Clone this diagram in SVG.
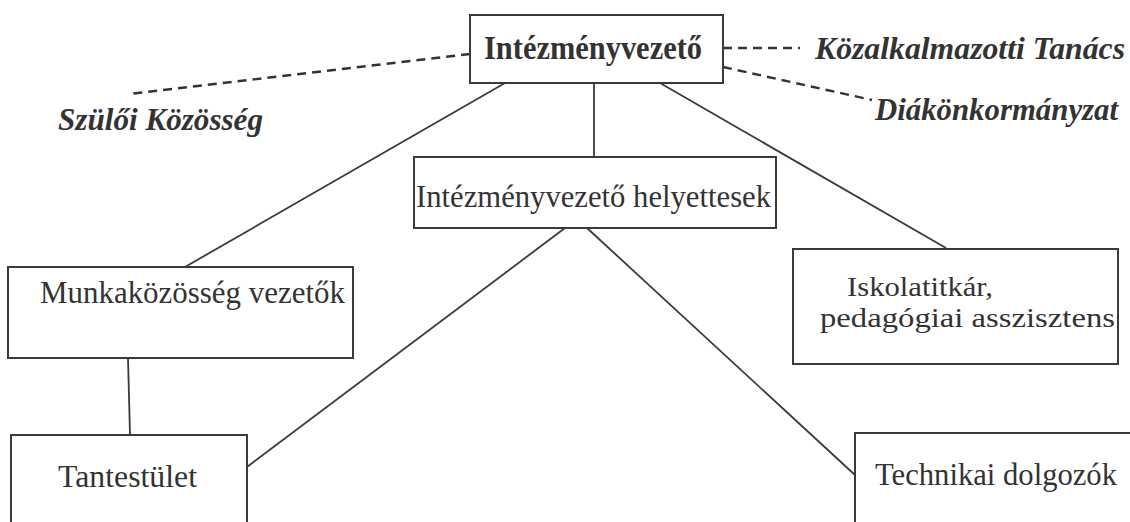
<svg xmlns="http://www.w3.org/2000/svg" width="1130" height="522" viewBox="0 0 1130 522">
<style>
.box{fill:#fff;stroke:#3a3a3a;stroke-width:2}
.ln{stroke:#3a3a3a;stroke-width:1.8;fill:none}
.dash{stroke:#333;stroke-width:2.4;fill:none;stroke-dasharray:9 6}
.t{font-family:'Liberation Serif','Times New Roman',serif;font-size:32px;fill:#333}
.b{font-weight:bold;font-size:33px}
.bi{font-weight:bold;font-style:italic;font-size:31px}
.s{font-size:28px}
</style>
<rect width="1130" height="522" fill="#fff"/>
<g id="connectors">
<line class="ln" x1="505" y1="83" x2="185" y2="267"/>
<line class="ln" x1="594" y1="83" x2="594" y2="157"/>
<line class="ln" x1="660" y1="83" x2="946" y2="248"/>
<line class="ln" x1="565" y1="228" x2="247" y2="467"/>
<line class="ln" x1="587" y1="228" x2="855" y2="475"/>
<line class="ln" x1="128" y1="358" x2="130" y2="435"/>
<line class="dash" x1="470" y1="54" x2="129" y2="94"/>
<line class="dash" x1="723" y1="48" x2="800" y2="48"/>
<line class="dash" x1="723" y1="67" x2="872" y2="100"/>
</g>
<g id="intezmenyvezeto">
<rect class="box" x="470" y="15" width="253" height="68"/>
<text class="t b" x="484" y="59" textLength="218" lengthAdjust="spacingAndGlyphs">Intézményvezető</text>
</g>
<g id="kozalkalmazotti">
<text class="t bi" x="815" y="59" textLength="310" lengthAdjust="spacingAndGlyphs">Közalkalmazotti Tanács</text>
</g>
<g id="diakonkormanyzat">
<text class="t bi" x="875" y="120" textLength="243" lengthAdjust="spacingAndGlyphs">Diákönkormányzat</text>
</g>
<g id="szuloi">
<text class="t bi" x="58" y="130" textLength="205" lengthAdjust="spacingAndGlyphs">Szülői Közösség</text>
</g>
<g id="helyettesek">
<rect class="box" x="414" y="157" width="362" height="71"/>
<text class="t" x="416" y="207" textLength="355" lengthAdjust="spacingAndGlyphs">Intézményvezető helyettesek</text>
</g>
<g id="munkakozosseg">
<rect class="box" x="8" y="267" width="345" height="91"/>
<text class="t" x="40" y="303" textLength="305" lengthAdjust="spacingAndGlyphs">Munkaközösség vezetők</text>
</g>
<g id="iskolatitkar">
<rect class="box" x="793" y="249" width="325" height="115"/>
<text class="t s" x="847" y="296" textLength="146" lengthAdjust="spacingAndGlyphs">Iskolatitkár,</text>
<text class="t s" x="820" y="327" textLength="295" lengthAdjust="spacingAndGlyphs">pedagógiai asszisztens</text>
</g>
<g id="tantestulet">
<rect class="box" x="11" y="435" width="236" height="100"/>
<text class="t" x="58" y="487" textLength="139" lengthAdjust="spacingAndGlyphs">Tantestület</text>
</g>
<g id="technikai">
<rect class="box" x="855" y="433" width="290" height="100"/>
<text class="t" x="875" y="485" textLength="242" lengthAdjust="spacingAndGlyphs">Technikai dolgozók</text>
</g>
</svg>
